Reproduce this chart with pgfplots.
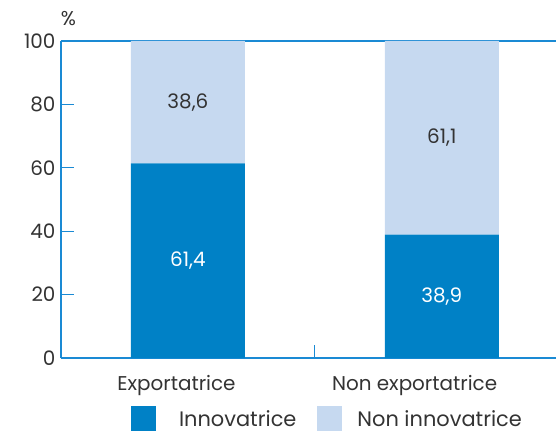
\documentclass[border=0pt]{standalone}
\usepackage{pgfplots}
\pgfplotsset{compat=1.18}
\usepackage{fontspec}
\setmainfont{Poppins}
\definecolor{axisblue}{HTML}{1A8AD4}
\definecolor{darkbar}{HTML}{0081C6}
\definecolor{lightbar}{HTML}{C6D9F0}
\definecolor{txt}{HTML}{333333}
\begin{document}
\begin{tikzpicture}[x=1bp,y=1bp]
\useasboundingbox (0,0) rectangle (556,432);
\begin{axis}[
  at={(61bp,74bp)}, anchor=south west,
  scale only axis, width=495bp, height=317bp,
  ybar stacked, bar width=114bp,
  xmin=-0.5, xmax=1.45, ymin=0, ymax=100,
  xtick={0.5}, xticklabels={},
  extra x ticks={-0.045,0.893}, extra x tick labels={Exportatrice,Non exportatrice},
  extra x tick style={major tick length=0pt},
  ytick={0,20,40,60,80,100},
  tick align=inside, major tick length=13bp,
  axis line style={axisblue, line width=1.5bp},
  tick style={axisblue, line width=1bp},
  axis x line*=bottom, axis y line*=left,
  ticklabel style={font=\fontsize{20}{20}\selectfont, text=txt},
  yticklabel style={xshift=-2bp},
  /pgf/number format/assume math mode=true,
  xticklabel style={yshift=-14bp},
  clip=false,
  legend style={at={(0.135,-0.192)}, anchor=west, draw=none, fill=none,
    legend columns=2, font=\fontsize{21}{21}\selectfont, text=txt,
    /tikz/every even column/.append style={column sep=19bp}},
  legend image code/.code={\fill[#1] (0bp,-12.5bp) rectangle (25bp,12.5bp);},
]
\addplot[fill=darkbar, draw=none] coordinates {(0,61.4) (1,38.9)};
\addplot[fill=lightbar, draw=none] coordinates {(0,38.6) (1,61.1)};
\legend{\hspace{21bp}Innovatrice, \hspace{13bp}Non innovatrice}
\draw[axisblue, line width=1.5bp] (rel axis cs:0,1) -- (rel axis cs:1,1);
\coordinate (L1) at (axis cs:0,30.7);
\coordinate (L2) at (axis cs:0,80.7);
\coordinate (L3) at (axis cs:1,19.45);
\coordinate (L4) at (axis cs:1,69.45);
\node[font=\fontsize{20}{20}\selectfont, text=txt] at (rel axis cs:0.015,1.07) {\%};
\end{axis}
\node[font=\fontsize{20}{20}\selectfont, text=white] at (L1) {61,4};
\node[font=\fontsize{20}{20}\selectfont, text=txt] at (L2) {38,6};
\node[font=\fontsize{20}{20}\selectfont, text=white] at (L3) {38,9};
\node[font=\fontsize{20}{20}\selectfont, text=txt] at (L4) {61,1};
\end{tikzpicture}
\end{document}
